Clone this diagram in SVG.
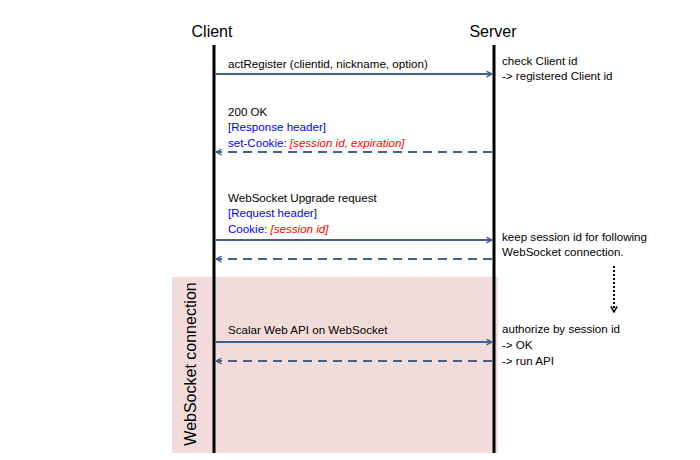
<svg xmlns="http://www.w3.org/2000/svg" width="700" height="460" viewBox="0 0 700 460">
<style>
text{font-family:"Liberation Sans",Arial,sans-serif;font-size:11.6px;fill:#000}
.hdr{font-size:16px}
.blue{fill:#0000ff}
.red{fill:#ff0000;font-style:italic}
.life{stroke:#000;stroke-width:3}
.msg{stroke:#41618e;stroke-width:2;fill:none}
.dash{stroke-dasharray:9,6}
</style>
<defs>
<marker id="ah" viewBox="0 0 10 10" refX="9" refY="5" markerWidth="7" markerHeight="7" orient="auto-start-reverse" markerUnits="userSpaceOnUse">
<path d="M1,1 L9,5 L1,9" fill="none" stroke="#41618e" stroke-width="2"/>
</marker>
<marker id="ahk" viewBox="0 0 10 10" refX="8" refY="5" markerWidth="8" markerHeight="8" orient="auto" markerUnits="userSpaceOnUse">
<path d="M1,1 L8,5 L1,9" fill="none" stroke="#000" stroke-width="2"/>
</marker>
</defs>
<rect id="ws-region" x="172" y="277" width="326" height="176" fill="#f2dcdb"/>
<text x="0" y="0" transform="translate(196,364) rotate(-90)" text-anchor="middle" style="font-size:16px">WebSocket  connection</text>
<g id="client">
<text class="hdr" x="212" y="37" text-anchor="middle">Client</text>
<line class="life" x1="214" y1="45" x2="214" y2="453"/>
</g>
<g id="server">
<text class="hdr" x="493" y="37" text-anchor="middle">Server</text>
<line class="life" x1="494" y1="45" x2="494" y2="453"/>
</g>
<g id="connectors">
<line class="msg" x1="215" y1="74" x2="492" y2="74" marker-end="url(#ah)"/>
<line class="msg dash" x1="492" y1="152" x2="216" y2="152" marker-end="url(#ah)"/>
<line class="msg" x1="215" y1="240" x2="492" y2="240" marker-end="url(#ah)"/>
<line class="msg dash" x1="492" y1="259" x2="216" y2="259" marker-end="url(#ah)"/>
<line class="msg" x1="215" y1="342" x2="492" y2="342" marker-end="url(#ah)"/>
<line class="msg dash" x1="492" y1="361" x2="216" y2="361" marker-end="url(#ah)"/>
<line x1="614" y1="266" x2="614" y2="312" stroke="#000" stroke-width="2" stroke-dasharray="2,2" marker-end="url(#ahk)"/>
</g>
<g id="labels">
<text x="228" y="68">actRegister (clientid, nickname, option)</text>
<text x="228" y="116">200 OK</text>
<text x="228" y="131" class="blue">[Response header]</text>
<text x="228" y="147" class="blue">set-Cookie: <tspan class="red">[session id, expiration]</tspan></text>
<text x="228" y="202">WebSocket Upgrade request</text>
<text x="228" y="217" class="blue">[Request header]</text>
<text x="228" y="233" class="blue">Cookie: <tspan class="red">[session id]</tspan></text>
<text x="228" y="334">Scalar Web API on WebSocket</text>
</g>
<g id="notes">
<text x="502" y="65">check Client id</text>
<text x="502" y="80">-&gt; registered Client id</text>
<text x="502" y="241">keep session id for following</text>
<text x="502" y="256">WebSocket connection.</text>
<text x="502" y="333">authorize by session id</text>
<text x="502" y="349">-&gt; OK</text>
<text x="502" y="365">-&gt; run API</text>
</g>
</svg>
